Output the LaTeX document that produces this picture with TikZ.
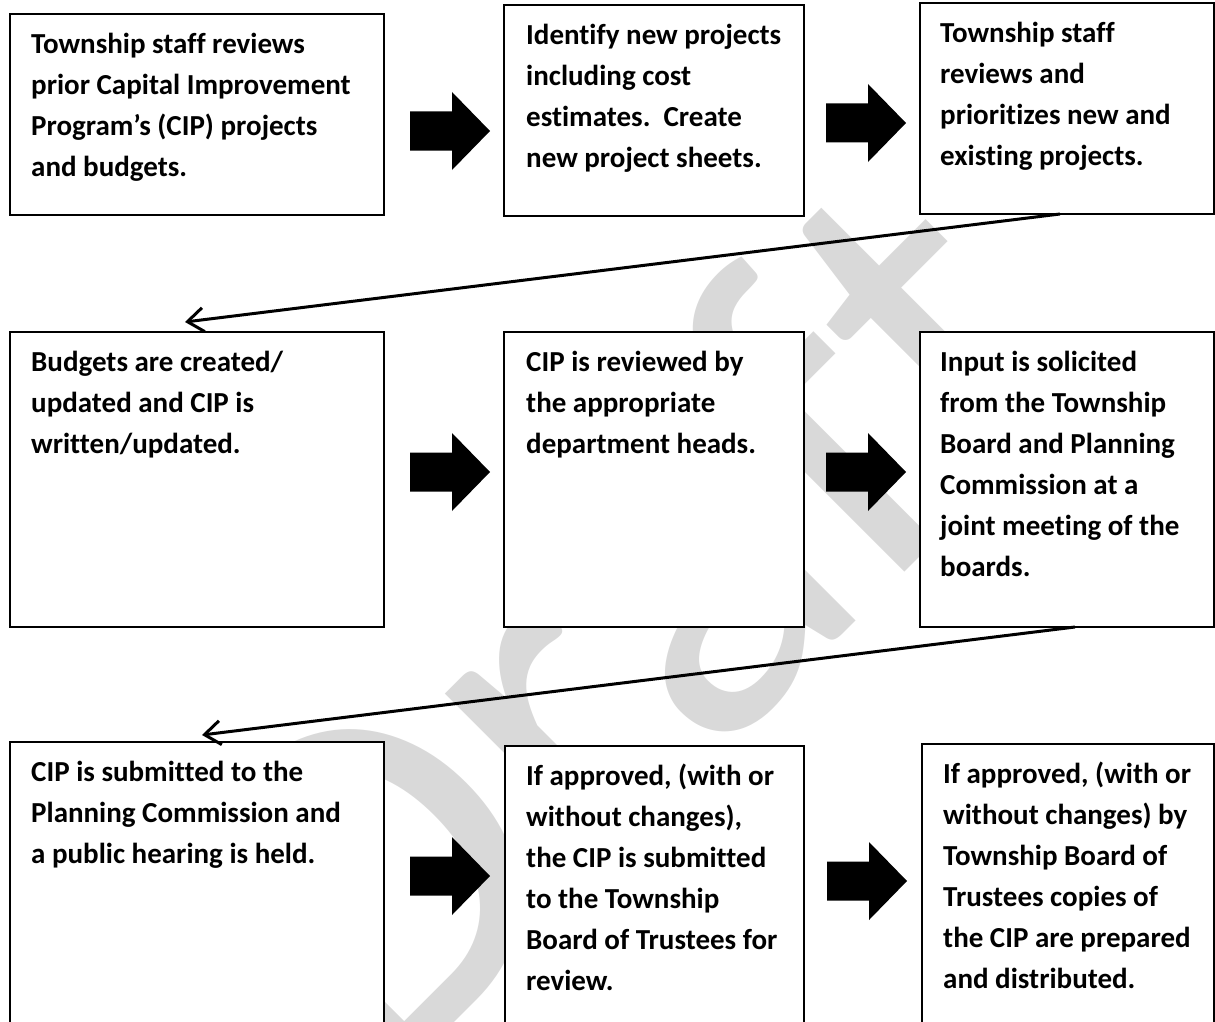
\documentclass[tikz,border=0pt]{standalone}
\usepackage{fontspec}
\setmainfont{Carlito}[Ligatures=CommonOff]
\usetikzlibrary{arrows.meta,calc}
\definecolor{wmgray}{RGB}{217,217,217}
\begin{document}
\begin{tikzpicture}[x=1pt,y=-1pt,
  box/.style={draw=black, line width=2pt, fill=white, anchor=north west, inner sep=0pt, outer sep=0pt},
  txt/.style={anchor=north west, align=left, inner sep=0pt, font=\bfseries\fontsize{29}{41}\selectfont},
  flow/.style={line width=3pt, -{Straight Barb[length=16pt,width=24pt,line width=3pt]}},
  blockarr/.pic={\fill[black] (-40,-19.5) -- (2,-19.5) -- (2,-39) -- (40,0) -- (2,39) -- (2,19.5) -- (-40,19.5) -- cycle;}
  ]
\useasboundingbox (0,0) rectangle (1215,1022);
\clip (0,0) rectangle (1215,1022);
% watermark
\node[rotate=45, text=wmgray, anchor=base, inner sep=0pt, font=\fontsize{500}{500}\selectfont] (wm) at (738,739) {Draft};
% boxes
\node[box, minimum width=374pt, minimum height=201pt] (A) at (10,14) {};
\node[box, minimum width=300pt, minimum height=211pt] (B) at (504,5) {};
\node[box, minimum width=294pt, minimum height=211pt] (C) at (920,3) {};
\node[box, minimum width=374pt, minimum height=295pt] (D) at (10,332) {};
\node[box, minimum width=300pt, minimum height=295pt] (E) at (504,332) {};
\node[box, minimum width=294pt, minimum height=295pt] (F) at (920,332) {};
\node[box, minimum width=374pt, minimum height=300pt] (G) at (10,742) {};
\node[box, minimum width=299pt, minimum height=300pt] (H) at (505,746) {};
\node[box, minimum width=292pt, minimum height=300pt] (I) at (922,744) {};
% texts (first baseline 39pt below the top of the box)
\node[txt] (At) at ($(A.north west)+(21,10.3)$) {\strut Township staff reviews\\prior Capital Improvement\\Program’s (CIP) projects\\and budgets.};
\node[txt] (Bt) at ($(B.north west)+(22,10.3)$) {\strut Identify new projects\\including cost\\estimates.\ \ Create\\new project sheets.};
\node[txt] (Ct) at ($(C.north west)+(20,10.3)$) {\strut Township staff\\reviews and\\prioritizes new and\\existing projects.};
\node[txt] (Dt) at ($(D.north west)+(21,10.3)$) {\strut Budgets are created/\\updated and CIP is\\written/updated.};
\node[txt] (Et) at ($(E.north west)+(22,10.3)$) {\strut CIP is reviewed by\\the appropriate\\department heads.};
\node[txt] (Ft) at ($(F.north west)+(20,10.3)$) {\strut Input is solicited\\from the Township\\Board and Planning\\Commission at a\\joint meeting of the\\boards.};
\node[txt] (Gt) at ($(G.north west)+(21,10.3)$) {\strut CIP is submitted to the\\Planning Commission and\\a public hearing is held.};
\node[txt] (Ht) at ($(H.north west)+(21,10.3)$) {\strut If approved, (with or\\without changes),\\the CIP is submitted\\to the Township\\Board of Trustees for\\review.};
\node[txt] (It) at ($(I.north west)+(21,10.3)$) {\strut If approved, (with or\\without changes) by\\Township Board of\\Trustees copies of\\the CIP are prepared\\and distributed.};
% block arrows
\pic at (450,131) {blockarr};
\pic at (866,123) {blockarr};
\pic at (450,472) {blockarr};
\pic at (866,472) {blockarr};
\pic at (450,876) {blockarr};
\pic at (867,881) {blockarr};
% connectors
\coordinate (c1s) at ($(C.south west)+(140,0)$);
\coordinate (c1e) at ($(D.north west)+(175,-10)$);
\draw[flow] (c1s) -- (c1e);
\coordinate (c2s) at ($(F.south west)+(155,0)$);
\coordinate (c2e) at ($(G.north west)+(192,-7)$);
\draw[flow] (c2s) -- (c2e);
\end{tikzpicture}
\end{document}
